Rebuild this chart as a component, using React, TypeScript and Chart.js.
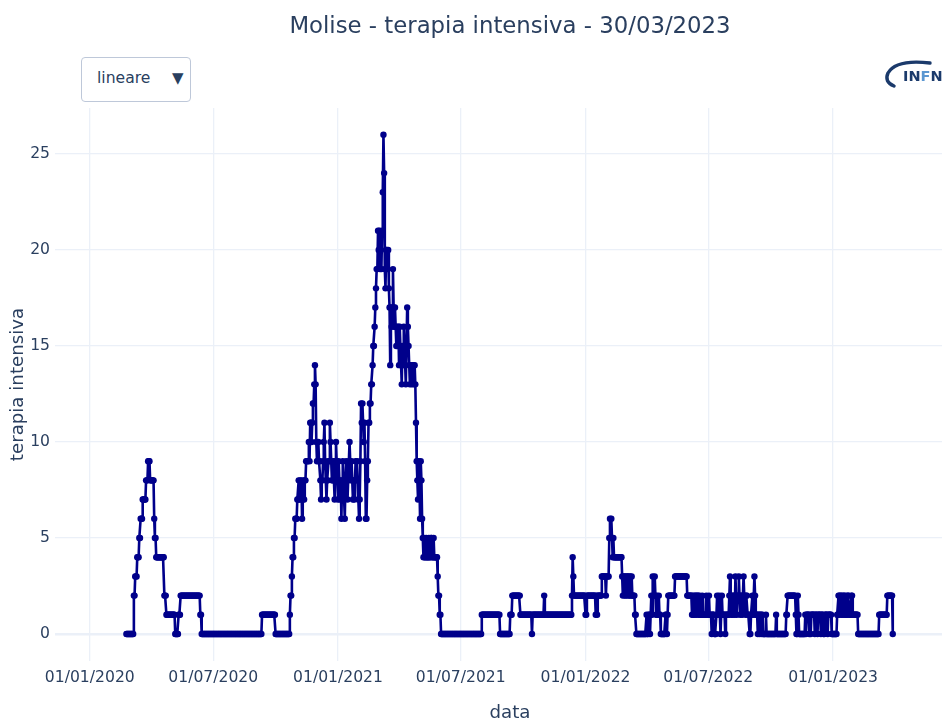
import React, { useEffect, useRef } from "react";
import { Chart, registerables } from "chart.js";

Chart.register(...registerables);

// ---------- data ----------
const chartTitle = "Molise - terapia intensiva - 30/03/2023";
const xTitle = "data";
const yTitle = "terapia intensiva";
const dropdownLabel = "lineare";

const axisOriginDate = "2020-01-01";
const firstDataDate = "2020-02-24";
const tickDates = ["2020-01-01", "2020-07-01", "2021-01-01", "2021-07-01", "2022-01-01", "2022-07-01", "2023-01-01"];
const tickLabels = ["01/01/2020", "01/07/2020", "01/01/2021", "01/07/2021", "01/01/2022", "01/07/2022", "01/01/2023"];
const yTickValues = [0, 5, 10, 15, 20, 25];

// daily values; a plain number = one day, [value, days] = a run of equal days
type Part = number | [number, number];

const wave2020: Part[] = [[0, 11], [2, 2], [3, 3], [4, 3], [5, 2], [6, 3], [7, 5], [8, 3], [9, 3], [8, 6], 6, [5, 2], [4, 12], [2, 3], [1, 13], [0, 5], [1, 3], [2, 29], [1, 2]];
const summer2020: Part[] = [[0, 89], [1, 20], [0, 21]];
const autumn2020: Part[] = [
  1, 2, 2, 3, 4, 4, 5, 5, 6, 6,
  6, 7, 7, 8, 7, 8, 7, 8, 6, 7,
  8, 7, 8, 8, 9, 9, 9, 9, 10, 9,
  11, 11, 10, 11, 12, 12, 13, 14, 13, 10,
  9, 9, 10, 9, 9, 8, 7, 8, 8, 9,
  10, 11, 9, 8, 7, 8, 8, 9, 9, 11,
  10, 9, 8, 8, 9, 8, 7, 9, 10, 9,
  8, 7, 9, 8, 7, 8, 6, 8, 9, 8,
];
const winter2021: Part[] = [
  7, 6, 8, 9, 8, 7, 8, 9, 10, 9,
  8, 9, 8, 7, 8, 7, 8, 9, 8, 9,
  8, 7, 6, 7, 9, 12, 11, 12, 11, 10,
  11, 9, 6, 6, 8, 9, 11, 11, 12, 12,
  13, 13, 14, 15, 15, 16, 17, 18, 19, 19,
  21, 20, 21, 19, 20, 19, 21, 23, 26, 24,
  19, 18, 20, 20, 19, 20, 18, 17, 14, 17,
  16, 17, 19, 17, 16, 17, 16, 15, 16,
  15, 16, 14, 16, 15, 14, 13, 15, 14, 16, 15,
  14, 13, 15, 17, 16, 15, 14, 13, 14, 14, 13, 14, 14, 13, 14,
];
const spring2021: Part[] = [
  13, 11, 9, 8, 7, 9, 8, 6, 9, 8, 6, 5,
  4, 5, 4, 4, 5, 4, 4, 4, 5, 4, 4, 5, 5, 4, 4, 5, 4, 4, 4, 4, 4,
  3, 2, 2, 1, 1,
];
const summer2021: Part[] = [[0, 60], [1, 27], [0, 15], [1, 3], [2, 12], [1, 17], 0, [1, 17], 2, [1, 40]];
const winter2022: Part[] = [
  2, 4, 3, [2, 17], [1, 2], [2, 13], 1, 2, 1, [2, 6], [3, 6], 2, [3, 4],
  5, 6, 5, 6, 5, 4, 5, 4, [4, 11],
  3, 2, 3, 3, 2, 3, 2, 3, 3, 2, 3, 2, 3, 2, 3, [2, 4], [1, 2],
];
const spring2022: Part[] = [
  [0, 15], 1, 0, 0, 1, 1, 0, 1, 2, 1, 3, 2, 2, 3, 2, 1, 2, 1, 1, 2, 1, 1, 0,
  [0, 6], 1, 1, 0, 1, [2, 10], [3, 18], [2, 7],
  1, 2, 1, 2, 1, 2, 2, 1, 2, 2, 1, 2, 1, 1, 1, 2, 1, 1, 1, 1, 1, 2, 1, 1, 1, 2, 1, 1, 1, 0, 1, 1, 1, 0, 0, 0,
];
const autumn2022: Part[] = [
  1, 2, 1, 1, 2, 1, 0, 1, 2, 1,
  1, 1, 1, 0, 1, 1, 1, 1, 1, 2,
  3, 2, 1, 2, 1, 2, 2, 1, 3, 2,
  1, 2, 2, 3, 2, 1, 2, 2, 1, 2,
  3, 2, 2, 1, 2, 2, 1, 1, 1, 0,
  0, 1, 1, 2, 1, 2, 3, 2, 1, 1,
  1, 0, 1, 1, 0, 1, 1, 0, 1, 0,
  [0, 3], 1, [0, 14], 1, [0, 14], [1, 2], [2, 12], 1, [0, 2],
];
const winter2023: Part[] = [
  2, 1, [0, 9],
  1, 0, 1, 1, 1, 1, 0, 1, 0, 1,
  1, 1, 1, 1, 0, 1, 1, 1, 0, 1,
  1, 1, 1, 0, 1, 1, 1, 0, 0, 1,
  1, 1, 1, 0, 1, 1, 1, 1, 1,
  [0, 8],
  1, 1, 2, 2, 1, 2, 2, 1, 2, 1,
  2, 2, 1, 1, 2, 1, 2, 2, 1, 1,
  1, 2, 2, 1, 1, 1, 1, 1, 1, 1, 1,
  [0, 31], [1, 12], [2, 8], 0,
];

const periods: Part[][] = [wave2020, summer2020, autumn2020, winter2021, spring2021, summer2021, winter2022, spring2022, autumn2022, winter2023];

// ---------- helpers ----------
const dayOf = (iso: string) => {
  const [y, m, d] = iso.split("-").map(Number);
  const [y0, m0, d0] = axisOriginDate.split("-").map(Number);
  return Math.round((Date.UTC(y, m - 1, d) - Date.UTC(y0, m0 - 1, d0)) / 86400000);
};
const expand = (parts: Part[]): number[] =>
  parts.flatMap((p) => (Array.isArray(p) ? Array(p[1]).fill(p[0]) : [p]));

const FONT = "'DejaVu Sans', Verdana, sans-serif";
const TEXT = "#2a3f5f";
const GRID = "#EBF0F8";
const LINE = "#00008B";

export default function App() {
  const canvasRef = useRef<HTMLCanvasElement | null>(null);

  useEffect(() => {
    const canvas = canvasRef.current;
    if (!canvas) return;
    const start = dayOf(firstDataDate);
    const values = periods.flatMap(expand);
    const points = values.map((v, i) => ({ x: start + i, y: v }));
    const tickDays = tickDates.map(dayOf);

    const chart = new Chart(canvas, {
      type: "line",
      data: {
        datasets: [
          {
            data: points,
            borderColor: LINE,
            backgroundColor: LINE,
            borderWidth: 2.6,
            pointRadius: 3.2,
            pointBorderWidth: 0,
            pointBackgroundColor: LINE,
            tension: 0,
            fill: false,
          },
        ],
      },
      options: {
        animation: false,
        responsive: false,
        maintainAspectRatio: false,
        layout: { padding: { top: 108, right: 25, left: 0, bottom: 0 } },
        plugins: {
          legend: { display: false },
          tooltip: { enabled: false },
          title: { display: false },
        },
        scales: {
          x: {
            type: "linear",
            min: -51.3,
            max: 1290.5,
            afterBuildTicks: (s: any) => {
              s.ticks = tickDays.map((v) => ({ value: v }));
            },
            afterFit: (s: any) => {
              s.height = 67;
            },
            ticks: {
              autoSkip: false,
              maxRotation: 0,
              minRotation: 0,
              padding: 8,
              color: TEXT,
              font: { family: FONT, size: 15.6 },
              callback: (_v: any, i: number) => tickLabels[i],
            },
            grid: { color: GRID, lineWidth: 1.3, drawTicks: false },
            border: { display: false },
            title: {
              display: true,
              text: xTitle,
              color: TEXT,
              font: { family: FONT, size: 18.2 },
              padding: { top: 0, bottom: 4 },
            },
          },
          y: {
            type: "linear",
            min: -1.406,
            max: 27.39,
            afterBuildTicks: (s: any) => {
              s.ticks = yTickValues.map((v) => ({ value: v }));
            },
            afterFit: (s: any) => {
              s.width = 55;
            },
            ticks: {
              padding: 5,
              color: TEXT,
              font: { family: FONT, size: 15.6 },
              callback: (v: any) => String(v),
            },
            grid: {
              color: GRID,
              lineWidth: (c: any) => (c.tick && c.tick.value === 0 ? 2.6 : 1.3),
              drawTicks: false,
            },
            border: { display: false },
            title: {
              display: true,
              text: yTitle,
              color: TEXT,
              font: { family: FONT, size: 18.2 },
              padding: { top: 7, bottom: 0 },
            },
          },
        },
      },
    });
    return () => chart.destroy();
  }, []);

  return (
    <div
      style={{
        position: "fixed",
        left: 0,
        top: 0,
        width: 942,
        height: 728,
        overflow: "hidden",
        background: "#fff",
        fontFamily: FONT,
      }}
    >
      <canvas ref={canvasRef} width={990} height={728} style={{ position: "absolute", left: 0, top: 0, width: 990, height: 728 }} />
      <div
        style={{
          position: "absolute",
          left: 510,
          top: 10,
          transform: "translateX(-50%)",
          whiteSpace: "nowrap",
          fontSize: 22.8,
          color: TEXT,
          lineHeight: "30px",
        }}
      >
        {chartTitle}
      </div>
      <div
        style={{
          position: "absolute",
          left: 81,
          top: 57,
          width: 110,
          height: 45,
          boxSizing: "border-box",
          border: "1px solid #BEC8D9",
          borderRadius: 4,
          background: "#fff",
          color: TEXT,
        }}
      >
        <span style={{ position: "absolute", left: 15, top: 10, fontSize: 15.6, lineHeight: "20px" }}>{dropdownLabel}</span>
        <span style={{ position: "absolute", left: 90, top: 10, fontSize: 15, lineHeight: "20px" }}>▼</span>
      </div>
      <svg style={{ position: "absolute", left: 880, top: 54 }} width={62} height={40} viewBox="0 0 62 40">
        <path d="M 50 9 Q 16 5 8 19 Q 4 28 14 32" fill="none" stroke="#1b3a6b" strokeWidth={3.4} strokeLinecap="round" />
        <text x={23} y={27} fontFamily={FONT} fontWeight="bold" fontSize={14.5} fill="#1b3a6b">
          IN<tspan fill="#5b97d1">F</tspan>N
        </text>
      </svg>
    </div>
  );
}
